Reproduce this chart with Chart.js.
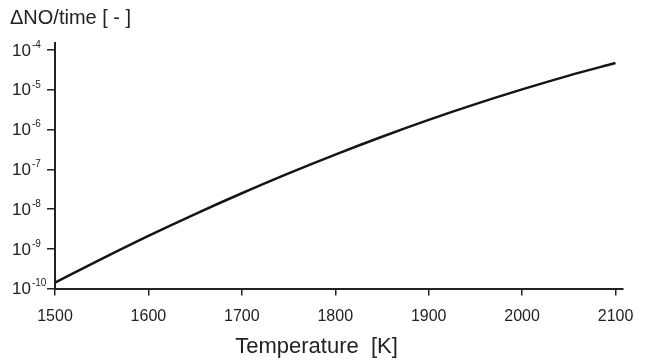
<!DOCTYPE html>
<html>
<head>
<meta charset="utf-8">
<script src="https://cdn.jsdelivr.net/npm/chart.js@4"></script>
<style>
  html, body { margin: 0; padding: 0; background: #fff; }
  #wrap { width: 650px; height: 360px; }
</style>
</head>
<body>
<div id="wrap"><canvas id="noChart"></canvas></div>
<script>
// data
const temperatures = [1500, 1550, 1600, 1650, 1700, 1750, 1800, 1850, 1900, 1950, 2000, 2050, 2100];
const noRate = [1.42e-10, 5.6e-10, 2.12e-9, 7.5e-9, 2.5e-8, 7.9e-8, 2.35e-7, 6.6e-7, 1.75e-6, 4.35e-6, 1.02e-5, 2.27e-5, 4.72e-5];
const xTicks = [1500, 1600, 1700, 1800, 1900, 2000, 2100];
const yTicks = [1e-10, 1e-9, 1e-8, 1e-7, 1e-6, 1e-5, 1e-4];
const yExponents = ["-10", "-9", "-8", "-7", "-6", "-5", "-4"];

const ink = "#222";
const font = "'Liberation Sans', Arial, Helvetica, sans-serif";

// y labels as 10 with a raised exponent
const powerLabels = {
  id: "powerLabels",
  afterDraw(chart) {
    const s = chart.scales.y;
    const ctx = chart.ctx;
    ctx.save();
    ctx.fillStyle = ink;
    ctx.textAlign = "left";
    ctx.textBaseline = "middle";
    yTicks.forEach((v, i) => {
      const y = s.getPixelForValue(v);
      ctx.font = "17px " + font;
      ctx.fillText("10", 12, y + 1);
      const w = ctx.measureText("10").width;
      ctx.font = "10px " + font;
      ctx.fillText(yExponents[i], 12 + w + 1, y - 5);
    });
    ctx.restore();
  }
};

new Chart(document.getElementById("noChart"), {
  type: "line",
  data: {
    datasets: [{
      data: temperatures.map((t, i) => ({ x: t, y: noRate[i] })),
      borderColor: "#151515",
      borderWidth: 2.5,
      pointRadius: 0,
      cubicInterpolationMode: "monotone",
      fill: false
    }]
  },
  options: {
    responsive: true,
    maintainAspectRatio: false,
    animation: false,
    layout: { padding: { left: 10, right: 27, top: 0, bottom: 0 } },
    plugins: {
      legend: { display: false },
      tooltip: { enabled: false },
      title: {
        display: true,
        text: "ΔNO/time [ - ]",
        align: "start",
        color: ink,
        font: { family: font, size: 20, weight: "normal" },
        padding: { top: 6, bottom: 13 }
      },
      subtitle: {
        display: true,
        position: "bottom",
        text: "Temperature  [K]",
        color: ink,
        font: { family: font, size: 22, weight: "normal" },
        padding: { top: 3, bottom: 0 }
      }
    },
    scales: {
      x: {
        type: "linear",
        min: 1500,
        max: 2108,
        afterBuildTicks: axis => { axis.ticks = xTicks.map(v => ({ value: v })); },
        afterFit: axis => { axis.height = 42; },
        ticks: {
          color: ink,
          padding: 11,
          maxRotation: 0,
          font: { family: font, size: 16 },
          callback: v => String(v)
        },
        grid: { drawOnChartArea: false, drawTicks: true, tickLength: 7, color: ink, lineWidth: 1.5 },
        border: { display: true, color: ink, width: 2 }
      },
      y: {
        type: "logarithmic",
        min: 1e-10,
        max: 1.5e-4,
        afterBuildTicks: axis => { axis.ticks = yTicks.map(v => ({ value: v })); },
        afterFit: axis => { axis.width = 45; },
        ticks: { display: false },
        grid: { drawOnChartArea: false, drawTicks: true, tickLength: 8, color: ink, lineWidth: 1.5 },
        border: { display: true, color: ink, width: 2 }
      }
    }
  },
  plugins: [powerLabels]
});
</script>
</body>
</html>
